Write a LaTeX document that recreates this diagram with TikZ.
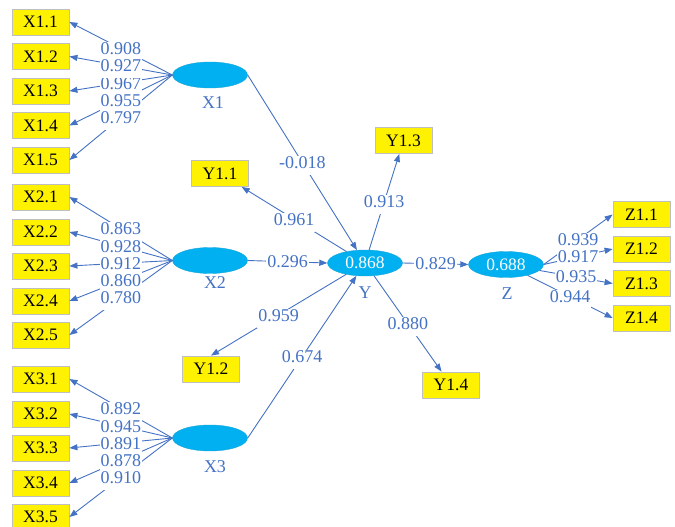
\documentclass[tikz,border=0pt]{standalone}
\usepackage{fontspec}
\setmainfont{Liberation Serif}
\usetikzlibrary{shapes.geometric,arrows.meta}
\definecolor{lblue}{HTML}{4472C4}
\definecolor{cyanfill}{HTML}{00B0F0}
\definecolor{boxgray}{HTML}{BFBFBF}
\begin{document}
\begin{tikzpicture}[x=1pt,y=-1pt,
  every node/.style={font=\fontsize{17.5}{17.5}\selectfont},
  ind/.style={draw=boxgray, line width=0.8pt, fill=yellow, minimum width=57pt, minimum height=26pt, inner sep=0pt, text=black},
  lat/.style={ellipse, fill=cyanfill, draw=cyanfill!80!gray, line width=0.4pt, minimum width=75pt, minimum height=26pt, inner sep=0pt, text=white},
  conn/.style={draw=lblue, line width=0.9pt, -{Triangle[length=8pt,width=6pt]}},
  lbl/.style={fill=white, text=lblue, inner sep=1pt, text height=11.5pt, text depth=5.5pt, yshift=-3pt, font=\fontsize{18}{18}\selectfont},
  sub/.style={text=lblue, inner sep=0pt, font=\fontsize{18}{18}\selectfont}]
\useasboundingbox (0,0) rectangle (675,527);

% latent variables
\node[lat] (X1) at (210,75) {};
\node[lat] (X2) at (210,260.5) {};
\node[lat] (X3) at (210,438) {};
\node[lat] (Y) at (365,263) {0.868};
\node[lat] (Z) at (506,264.5) {0.688};
\node[sub] (X1n) at (213,103) {X1};
\node[sub] (X2n) at (215,283) {X2};
\node[sub] (X3n) at (215,467) {X3};
\node[sub] (Yn) at (365,293) {Y};
\node[sub] (Zn) at (507,294) {Z};

% indicators
\node[ind] (X11) at (40.5,22) {X1.1};
\node[ind] (X12) at (40.5,56.5) {X1.2};
\node[ind] (X13) at (40.5,91) {X1.3};
\node[ind] (X14) at (40.5,125.5) {X1.4};
\node[ind] (X15) at (40.5,160) {X1.5};
\node[ind] (X21) at (40.5,197) {X2.1};
\node[ind] (X22) at (40.5,232) {X2.2};
\node[ind] (X23) at (40.5,266) {X2.3};
\node[ind] (X24) at (40.5,301) {X2.4};
\node[ind] (X25) at (40.5,335) {X2.5};
\node[ind] (X31) at (40.5,379) {X3.1};
\node[ind] (X32) at (40.5,414) {X3.2};
\node[ind] (X33) at (40.5,448) {X3.3};
\node[ind] (X34) at (40.5,483) {X3.4};
\node[ind] (X35) at (40.5,517) {X3.5};
\node[ind] (Y11) at (220,173.5) {Y1.1};
\node[ind] (Y12) at (211,369) {Y1.2};
\node[ind] (Y13) at (403.5,140.5) {Y1.3};
\node[ind] (Y14) at (451,385) {Y1.4};
\node[ind] (Z11) at (641.5,214.5) {Z1.1};
\node[ind] (Z12) at (641.5,249) {Z1.2};
\node[ind] (Z13) at (641.5,283.5) {Z1.3};
\node[ind] (Z14) at (641.5,318) {Z1.4};

% connectors
\draw[conn] (X1.west) -- coordinate (a1) (X11.east);
\draw[conn] (X1.west) -- coordinate (a2) (X12.east);
\draw[conn] (X1.west) -- coordinate (a3) (X13.east);
\draw[conn] (X1.west) -- coordinate (a4) (X14.east);
\draw[conn] (X1.west) -- coordinate (a5) (X15.east);
\draw[conn] (X2.west) -- coordinate (b1) (X21.east);
\draw[conn] (X2.west) -- coordinate (b2) (X22.east);
\draw[conn] (X2.west) -- coordinate (b3) (X23.east);
\draw[conn] (X2.west) -- coordinate (b4) (X24.east);
\draw[conn] (X2.west) -- coordinate (b5) (X25.east);
\draw[conn] (X3.west) -- coordinate (c1) (X31.east);
\draw[conn] (X3.west) -- coordinate (c2) (X32.east);
\draw[conn] (X3.west) -- coordinate (c3) (X33.east);
\draw[conn] (X3.west) -- coordinate (c4) (X34.east);
\draw[conn] (X3.west) -- coordinate (c5) (X35.east);
\draw[conn] (X1.east) -- coordinate (p1) (Y);
\draw[conn] (X2.east) -- coordinate (p2) (Y.west);
\draw[conn] (X3.east) -- coordinate (p3) (Y);
\draw[conn] (Y) -- coordinate (y1) (Y11);
\draw[conn] (Y) -- coordinate (y2) (Y12.north);
\draw[conn] (Y) -- coordinate (y3) (Y13);
\draw[conn] (Y) -- coordinate (y4) (Y14);
\draw[conn] (Y.east) -- coordinate (p4) (Z.west);
\draw[conn] (Z.east) -- coordinate (z1) (Z11.west);
\draw[conn] (Z.east) -- coordinate (z2) (Z12.west);
\draw[conn] (Z) -- coordinate (z3) (Z13.west);
\draw[conn] (Z) -- coordinate (z4) (Z14.west);

% path coefficients / loadings
\node[lbl] (la1) at (a1) {0.908};
\node[lbl] (la3) at (a3) {0.967};
\node[lbl] (la2) at (a2) {0.927};
\node[lbl] (la4) at (a4) {0.955};
\node[lbl] (la5) at (a5) {0.797};
\node[lbl] (lb1) at (b1) {0.863};
\node[lbl] (lb2) at (b2) {0.928};
\node[lbl] (lb3) at (b3) {0.912};
\node[lbl] (lb4) at (b4) {0.860};
\node[lbl] (lb5) at (b5) {0.780};
\node[lbl] (lc1) at (c1) {0.892};
\node[lbl] (lc2) at (c2) {0.945};
\node[lbl] (lc3) at (c3) {0.891};
\node[lbl] (lc4) at (c4) {0.878};
\node[lbl] (lc5) at (c5) {0.910};
\node[lbl] (lp1) at (p1) {-0.018};
\node[lbl] (lp2) at (p2) {0.296};
\node[lbl] (lp3) at (p3) {0.674};
\node[lbl] (lp4) at (p4) {0.829};
\node[lbl] (ly1) at (y1) {0.961};
\node[lbl] (ly2) at (y2) {0.959};
\node[lbl] (ly3) at (y3) {0.913};
\node[lbl] (ly4) at (y4) {0.880};
\node[lbl] (lz1) at (z1) {0.939};
\node[lbl] (lz2) at (z2) {0.917};
\node[lbl] (lz3) at (z3) {0.935};
\node[lbl] (lz4) at (z4) {0.944};
\end{tikzpicture}
\end{document}
